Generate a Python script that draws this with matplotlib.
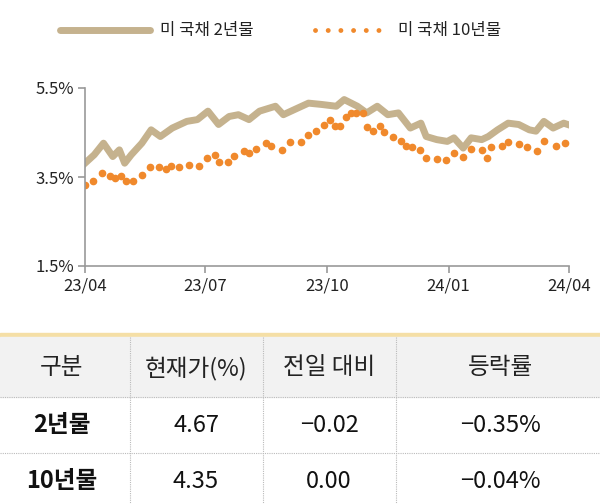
import matplotlib
matplotlib.use("Agg")
import matplotlib.pyplot as plt
import datetime as dt
from matplotlib.lines import Line2D

plt.rcParams["font.family"] = ["Noto Sans CJK JP", "Noto Sans CJK KR", "Noto Sans CJK SC", "DejaVu Sans"]
plt.rcParams["axes.unicode_minus"] = False

# day offsets from 2023-04-01
y2_days = [0, 7, 14, 21, 26, 30, 35, 43, 50, 57, 66, 77, 85, 93, 101, 109, 116, 124, 132, 144, 150, 158, 169, 179, 190, 196, 206, 213, 221, 229, 237, 246, 254, 258, 266, 274, 279, 286, 292, 300, 305, 312, 320, 328, 336, 341, 347, 354, 362, 366]
y2_vals = [3.81, 4.0, 4.26, 3.96, 4.11, 3.81, 4.0, 4.26, 4.56, 4.41, 4.6, 4.75, 4.79, 4.98, 4.68, 4.86, 4.9, 4.79, 4.98, 5.09, 4.9, 5.01, 5.16, 5.13, 5.09, 5.24, 5.09, 4.94, 5.09, 4.9, 4.94, 4.6, 4.71, 4.41, 4.34, 4.3, 4.38, 4.15, 4.38, 4.34, 4.41, 4.56, 4.71, 4.68, 4.56, 4.53, 4.75, 4.6, 4.71, 4.67]
y10_xz = [75, 100, 125, 150, 165, 180, 195, 215, 240, 265, 290, 310, 325, 350, 380, 405, 430, 450, 465, 490, 510, 535, 550, 570, 600, 615, 645, 670, 700, 725, 745, 770, 785, 800, 815, 830, 845, 860, 880, 890, 910, 930, 940, 970, 990, 1005, 1020, 1045, 1065, 1095, 1120, 1145, 1170, 1195, 1225, 1240, 1250, 1280, 1300, 1330, 1355, 1385, 1405, 1440, 1465]
y10_vals = [3.33, 3.42, 3.59, 3.53, 3.48, 3.53, 3.42, 3.42, 3.55, 3.72, 3.72, 3.69, 3.74, 3.72, 3.78, 3.75, 3.93, 3.99, 3.83, 3.83, 3.98, 4.09, 4.04, 4.14, 4.26, 4.2, 4.11, 4.29, 4.29, 4.44, 4.54, 4.66, 4.77, 4.64, 4.64, 4.84, 4.94, 4.94, 4.94, 4.62, 4.53, 4.65, 4.51, 4.41, 4.3, 4.2, 4.17, 4.11, 3.93, 3.9, 3.89, 4.05, 3.96, 4.13, 4.11, 3.93, 4.17, 4.2, 4.29, 4.25, 4.17, 4.09, 4.32, 4.2, 4.26]

legend_labels = ["미 국채 2년물", "미 국채 10년물"]
xtick_labels = ["23/04", "23/07", "23/10", "24/01", "24/04"]
ytick_labels = ["1.5%", "3.5%", "5.5%"]
col_headers = ["구분", "현재가(%)", "전일 대비", "등락률"]
table_rows = [["2년물", "4.67", "−0.02", "−0.35%"],
              ["10년물", "4.35", "0.00", "−0.04%"]]

C2 = "#c5b28e"
C10 = "#f0892c"
start = dt.date(2023, 4, 1)
d2 = [start + dt.timedelta(days=d) for d in y2_days]
d10 = [start + dt.timedelta(days=(x - 75) / 1400 * 366) for x in y10_xz]

fig = plt.figure(figsize=(6, 5.04), dpi=100)
W, H = 600, 504
def fx(p): return p / W
def fy(p): return 1 - p / H

ax = fig.add_axes([fx(85), fy(266), fx(569 - 85), (266 - 88) / H])
ax.plot(d2, y2_vals, color=C2, lw=5, solid_joinstyle="round")
ax.plot(d10, y10_vals, color=C10, lw=0, marker="o", ms=4.5)
ax.set_ylim(1.5, 5.5)
ax.set_xlim(dt.date(2023, 4, 1), dt.date(2024, 4, 1))
ax.set_yticks([1.5, 3.5, 5.5])
ax.set_yticklabels(ytick_labels, fontsize=12)
ticks = [dt.date(2023, 4, 1), dt.date(2023, 7, 1), dt.date(2023, 10, 1), dt.date(2024, 1, 1), dt.date(2024, 4, 1)]
ax.set_xticks(ticks)
ax.set_xticklabels(xtick_labels, fontsize=12)
for s in ["top", "right"]:
    ax.spines[s].set_visible(False)
for s in ["left", "bottom"]:
    ax.spines[s].set_color("#999999")
    ax.spines[s].set_linewidth(1.2)
ax.tick_params(colors="#999999", labelcolor="#222222", length=5, width=1.2, pad=3)

# legend (drawn manually)
fig.add_artist(Line2D([fx(60), fx(150)], [fy(30)] * 2, color=C2, lw=5, solid_capstyle="round"))
fig.text(fx(160), fy(30), legend_labels[0], fontsize=12, va="center", ha="left", color="#222222")
fig.add_artist(Line2D([fx(315), fx(385)], [fy(30)] * 2, color=C10, lw=3.5,
                      ls=(0, (0.01, 2.6)), dash_capstyle="round"))
fig.text(fx(398), fy(30), legend_labels[1], fontsize=12, va="center", ha="left", color="#222222")

# table
fig.patches.append(plt.Rectangle((0, fy(337)), 1, 4 / H, transform=fig.transFigure,
                                 color="#f5dfa6", zorder=0))
fig.patches.append(plt.Rectangle((0, fy(397)), 1, 60 / H, transform=fig.transFigure,
                                 color="#f2f2f2", zorder=0))
col_edges = [0, 130, 263, 396, 600]
for x in col_edges[1:-1]:
    fig.add_artist(Line2D([fx(x)] * 2, [fy(337), fy(504)], color="#bbbbbb", lw=0.8, ls=(0, (1, 1))))
for y in [397, 453]:
    fig.add_artist(Line2D([0, 1], [fy(y)] * 2, color="#bbbbbb", lw=0.8, ls=(0, (1, 1))))
centers = [62, 196, 329, 500]
for i, h in enumerate(col_headers):
    fig.text(fx(centers[i]), fy(368), h, ha="center", va="center", fontsize=17, color="#222222")
for r, row in enumerate(table_rows):
    yc = 425 + r * 56
    for i, v in enumerate(row):
        fig.text(fx(centers[i]), fy(yc), v, ha="center", va="center", fontsize=17,
                 color="#111111", fontweight="bold" if i == 0 else "normal")

fig.savefig("out.png", dpi=100)
